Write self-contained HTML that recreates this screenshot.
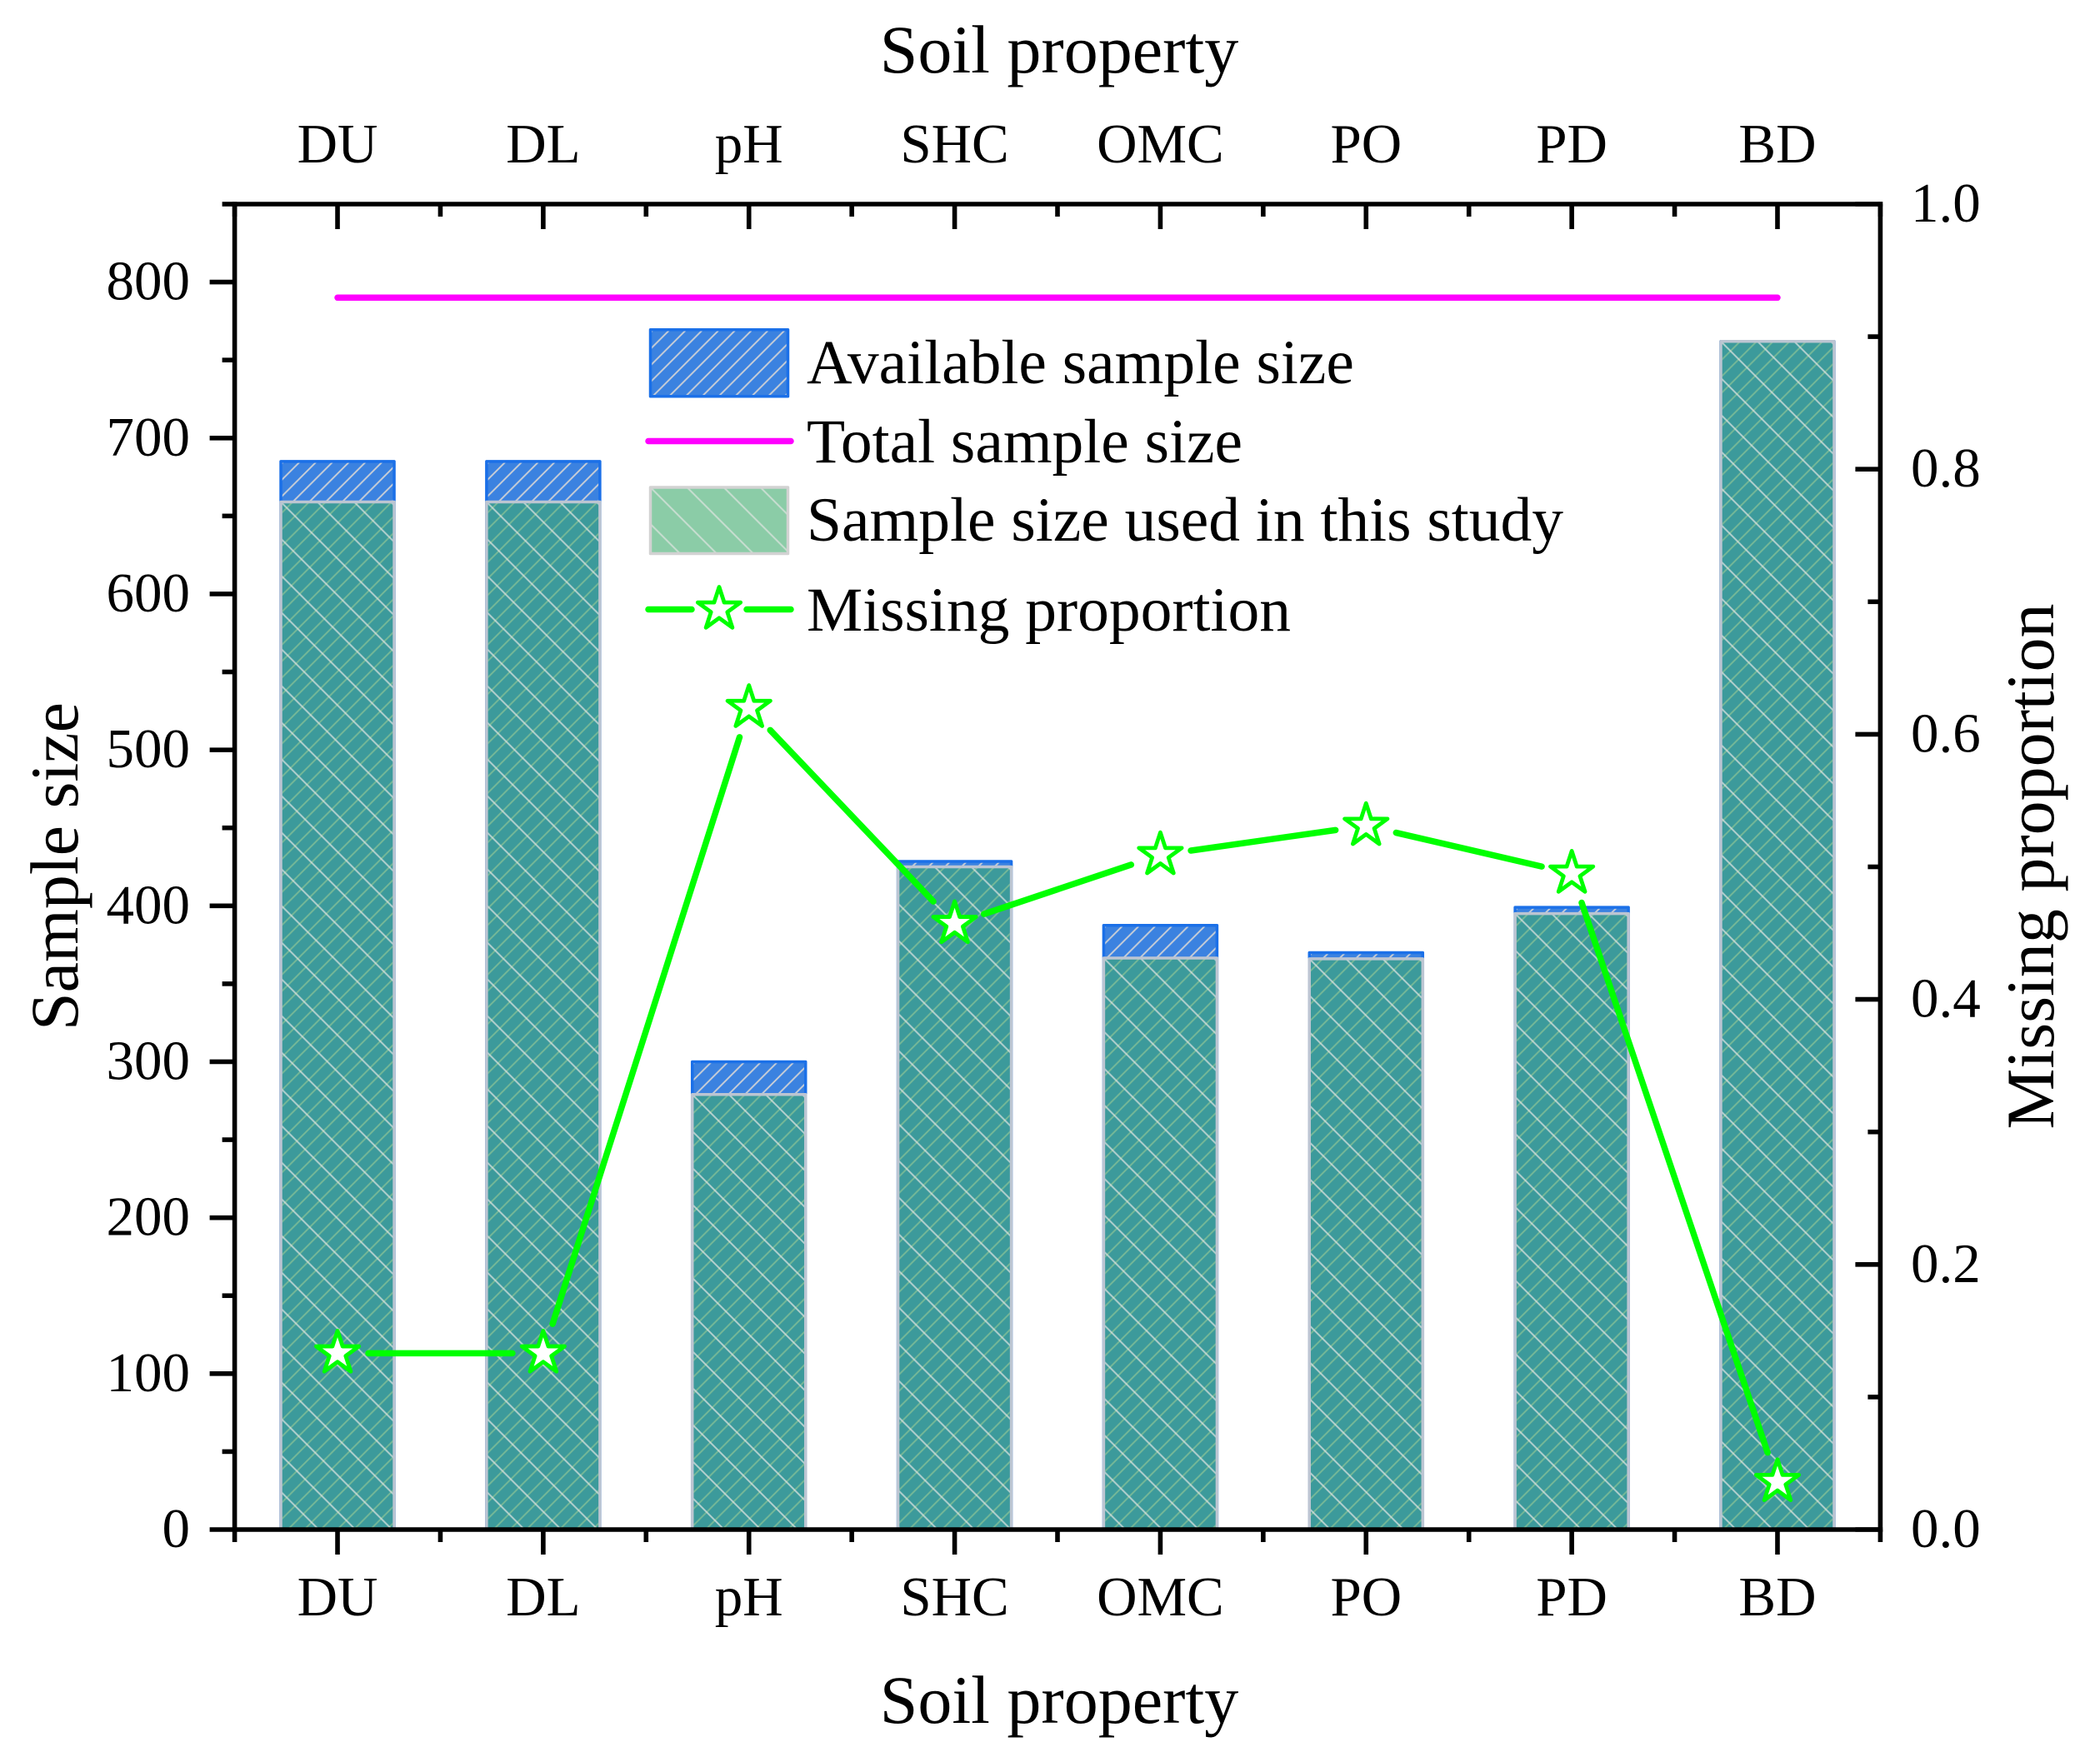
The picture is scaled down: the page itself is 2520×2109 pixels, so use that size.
<!DOCTYPE html>
<html lang="en">
<head>
<meta charset="utf-8">
<title>Sample size and missing proportion by soil property</title>
<style>
html,body{margin:0;padding:0;background:#fff}
svg{display:block}
text{font-family:"Liberation Serif",serif;fill:#000}
.tick{font-size:67px}
.title{font-size:82px}
.leg{font-size:75.5px}
</style>
</head>
<body>
<svg id="chart" xmlns="http://www.w3.org/2000/svg" width="2520" height="2109" viewBox="0 0 2520 2109">
  <rect x="0" y="0" width="2520" height="2109" fill="#fff"/>
  <defs id="defs"></defs>
  <g id="bars-available"></g>
  <g id="bars-used"></g>
  <g id="total-layer"></g>
  <g id="missing-layer"></g>
  <g id="axes"></g>
  <g id="labels"></g>

  <text class="title" x="1271" y="2068" text-anchor="middle">Soil property</text>
  <text class="title" x="1271" y="87" text-anchor="middle">Soil property</text>
  <text class="title" transform="translate(93 1040) rotate(-90)" text-anchor="middle">Sample size</text>
  <text class="title" transform="translate(2464 1040) rotate(-90)" text-anchor="middle">Missing proportion</text>

  <g id="legend">
    <g id="legend-swatches"></g>
    <text class="leg" x="968" y="460">Available sample size</text>
    <text class="leg" x="968" y="555">Total sample size</text>
    <text class="leg" x="968" y="649">Sample size used in this study</text>
    <text class="leg" x="968" y="757">Missing proportion</text>
  </g>
</svg>
<script>
const categories = ['DU', 'DL', 'pH', 'SHC', 'OMC', 'PO', 'PD', 'BD'];
const availableSizes = [685, 685, 300, 428.5, 387.5, 370, 399, 762];
const usedSizes = [659, 659, 279, 425, 366.5, 366, 395, 762];
const totalSizes = [790, 790, 790, 790, 790, 790, 790, 790];
const missingProportion = [0.133, 0.133, 0.62, 0.457, 0.509, 0.531, 0.495, 0.036];
const leftTicks = [0, 100, 200, 300, 400, 500, 600, 700, 800];
const leftMinorTicks = [50, 150, 250, 350, 450, 550, 650, 750, 850];
const rightTicks = [0, 0.2, 0.4, 0.6, 0.8, 1];
const rightMinorTicks = [0.1, 0.3, 0.5, 0.7, 0.9];

const NS = 'http://www.w3.org/2000/svg';
const plot = {left: 281.6, right: 2256.4, top: 245, bottom: 1836};
const leftMax = 850;
const barFrac = 0.551;
const barStroke = 3.5;

function xAxis(pos) { /* pos is 1-based category position */
  return plot.left + (pos - 0.5) * (plot.right - plot.left) / categories.length;
}
function yLeft(v) { return plot.bottom - v / leftMax * (plot.bottom - plot.top); }
function yRight(v) { return plot.bottom - v * (plot.bottom - plot.top); }

function mk(tag, attrs, parent) {
  const el = document.createElementNS(NS, tag);
  for (const k in attrs) el.setAttribute(k, attrs[k]);
  parent.appendChild(el);
  return el;
}

const defs = document.getElementById('defs');
let patternCount = 0;
function hatch(x, y, size, forward, color, width) {
  patternCount += 1;
  const id = 'hatch-' + patternCount;
  const p = mk('pattern', {id: id, patternUnits: 'userSpaceOnUse', x: x, y: y, width: size, height: size}, defs);
  const d = forward
    ? `M0 ${size}L${size} 0M-3 3L3 -3M${size - 3} ${size + 3}L${size + 3} ${size - 3}`
    : `M0 0L${size} ${size}M${size - 3} -3L${size + 3} 3M-3 ${size - 3}L3 ${size + 3}`;
  mk('path', {d: d, stroke: color, 'stroke-width': width, fill: 'none'}, p);
  return 'url(#' + id + ')';
}

function blueBox(parent, x, y, w, h) {
  const ix = x + barStroke / 2, iy = y + barStroke / 2;
  mk('rect', {x: x, y: y, width: w, height: h, fill: '#3b82e0', stroke: 'none'}, parent);
  mk('rect', {x: x, y: y, width: w, height: h, fill: hatch(ix, iy, 19.8, true, '#c9ced6', 1.9), stroke: '#1b70e8', 'stroke-width': barStroke, 'stroke-linejoin': 'round'}, parent);
}
function greenBox(parent, x, y, w, h, edge) {
  const ix = x + barStroke / 2, iy = y + barStroke / 2;
  mk('rect', {x: x, y: y, width: w, height: h, fill: 'rgb(62,170,108)', 'fill-opacity': 0.6, stroke: 'none'}, parent);
  mk('rect', {x: x, y: y, width: w, height: h, fill: hatch(ix, iy, 44, false, 'rgba(225,228,226,0.72)', 2), stroke: edge, 'stroke-width': barStroke, 'stroke-linejoin': 'round'}, parent);
}
function starPoints(cx, cy, R) {
  const r = R * 0.382;
  const pts = [];
  for (let i = 0; i < 10; i++) {
    const a = -Math.PI / 2 + i * Math.PI / 5;
    const rad = i % 2 === 0 ? R : r;
    pts.push((cx + rad * Math.cos(a)).toFixed(2) + ',' + (cy + rad * Math.sin(a)).toFixed(2));
  }
  return pts.join(' ');
}

/* bars */
const step = (plot.right - plot.left) / categories.length;
const barW = step * barFrac;
const availGroup = document.getElementById('bars-available');
const usedGroup = document.getElementById('bars-used');
categories.forEach((c, i) => {
  const cx = xAxis(i + 1);
  const a = document.createElementNS(NS, 'g');
  
  
  availGroup.appendChild(a);
  blueBox(a, cx - barW / 2, yLeft(availableSizes[i]), barW, yLeft(0) - yLeft(availableSizes[i]));
  const u = document.createElementNS(NS, 'g');
  
  
  usedGroup.appendChild(u);
  greenBox(u, cx - barW / 2, yLeft(usedSizes[i]), barW, yLeft(0) - yLeft(usedSizes[i]), '#bcc5d2');
});

/* total line */
const totalLine = document.createElementNS(NS, 'polyline');


totalLine.setAttribute('points', totalSizes.map((v, i) => xAxis(i + 1) + ',' + yLeft(v)).join(' '));
totalLine.setAttribute('fill', 'none');
totalLine.setAttribute('stroke', '#ff00ff');
totalLine.setAttribute('stroke-width', '7.5');
totalLine.setAttribute('stroke-linecap', 'round');
document.getElementById('total-layer').appendChild(totalLine);

/* missing proportion line with gaps around the markers */
const missLayer = document.getElementById('missing-layer');
const gap = 37;
for (let i = 0; i < missingProportion.length - 1; i++) {
  const x1 = xAxis(i + 1), y1 = yRight(missingProportion[i]);
  const x2 = xAxis(i + 2), y2 = yRight(missingProportion[i + 1]);
  const len = Math.hypot(x2 - x1, y2 - y1);
  const ux = (x2 - x1) / len, uy = (y2 - y1) / len;
  const seg = document.createElementNS(NS, 'line');
  
  
  seg.setAttribute('x1', x1 + ux * gap);
  seg.setAttribute('y1', y1 + uy * gap);
  seg.setAttribute('x2', x2 - ux * gap);
  seg.setAttribute('y2', y2 - uy * gap);
  seg.setAttribute('stroke', '#00ff00');
  seg.setAttribute('stroke-width', '7.5');
  seg.setAttribute('stroke-linecap', 'round');
  missLayer.appendChild(seg);
}
missingProportion.forEach((v, i) => {
  const star = document.createElementNS(NS, 'polygon');
  
  
  star.setAttribute('points', starPoints(xAxis(i + 1), yRight(v), 27));
  star.setAttribute('fill', '#fff');
  star.setAttribute('stroke', '#00ff00');
  star.setAttribute('stroke-width', '4.8');
  star.setAttribute('stroke-linejoin', 'round');
  missLayer.appendChild(star);
});

/* axes */
const axes = document.getElementById('axes');
function axisLine(x1, y1, x2, y2, name) {
  const l = document.createElementNS(NS, 'line');
  
  
  l.setAttribute('x1', x1);
  l.setAttribute('y1', y1);
  l.setAttribute('x2', x2);
  l.setAttribute('y2', y2);
  l.setAttribute('stroke', '#000');
  l.setAttribute('stroke-width', '5.6');
  axes.appendChild(l);
}
const majorLen = 30, minorLen = 15;
axisLine(plot.left, plot.top - 2.8, plot.left, plot.bottom + 2.8, 'left-y-axis-line');
axisLine(plot.right, plot.top - 2.8, plot.right, plot.bottom + 2.8, 'right-y-axis-line');
axisLine(plot.left, plot.top, plot.right + 2.8, plot.top, 'top-x-axis-line');
axisLine(plot.left, plot.bottom, plot.right + 2.8, plot.bottom, 'bottom-x-axis-line');
leftTicks.forEach(v => axisLine(plot.left - majorLen, yLeft(v), plot.left, yLeft(v), 'left-major-tick'));
leftMinorTicks.forEach(v => axisLine(plot.left - minorLen, yLeft(v), plot.left, yLeft(v), 'left-minor-tick'));
rightTicks.forEach(v => axisLine(plot.right - majorLen, yRight(v), plot.right, yRight(v), 'right-major-tick'));
rightMinorTicks.forEach(v => axisLine(plot.right - minorLen, yRight(v), plot.right, yRight(v), 'right-minor-tick'));
categories.forEach((c, i) => {
  const x = xAxis(i + 1);
  axisLine(x, plot.bottom, x, plot.bottom + majorLen, 'bottom-major-tick');
  axisLine(x, plot.top, x, plot.top + majorLen, 'top-major-tick');
});
for (let i = 0; i <= categories.length; i++) {
  const x = xAxis(i + 0.5);
  axisLine(x, plot.bottom, x, plot.bottom + minorLen, 'bottom-minor-tick');
  axisLine(x, plot.top, x, plot.top + minorLen, 'top-minor-tick');
}

/* tick labels */
const labels = document.getElementById('labels');
function tickLabel(text, x, y, anchor, name) {
  const t = document.createElementNS(NS, 'text');
  
  
  t.setAttribute('class', 'tick');
  t.setAttribute('x', x);
  t.setAttribute('y', y);
  t.setAttribute('text-anchor', anchor);
  t.textContent = text;
  labels.appendChild(t);
}
leftTicks.forEach(v => tickLabel(String(v), 228, yLeft(v) + 21, 'end', 'left-tick-label'));
rightTicks.forEach(v => tickLabel(v.toFixed(1), 2293, yRight(v) + 21, 'start', 'right-tick-label'));
categories.forEach((c, i) => {
  tickLabel(c, xAxis(i + 1), 1939, 'middle', 'bottom-tick-label');
  tickLabel(c, xAxis(i + 1), 195, 'middle', 'top-tick-label');
});

/* legend swatches */
const sw = document.getElementById('legend-swatches');
const swBlue = document.createElementNS(NS, 'g');


sw.appendChild(swBlue);
blueBox(swBlue, 780.5, 395.7, 165, 80);
const swMagenta = document.createElementNS(NS, 'line');


swMagenta.setAttribute('x1', '778');
swMagenta.setAttribute('y1', '529.5');
swMagenta.setAttribute('x2', '949');
swMagenta.setAttribute('y2', '529.5');
swMagenta.setAttribute('stroke', '#ff00ff');
swMagenta.setAttribute('stroke-width', '7.5');
swMagenta.setAttribute('stroke-linecap', 'round');
sw.appendChild(swMagenta);
const swGreen = document.createElementNS(NS, 'g');


sw.appendChild(swGreen);
greenBox(swGreen, 780.5, 585, 165, 79.5, '#d2d2d2');
const swMiss = document.createElementNS(NS, 'path');


swMiss.setAttribute('d', 'M778 731.5H830M896 731.5H949');
swMiss.setAttribute('stroke', '#00ff00');
swMiss.setAttribute('stroke-width', '7.5');
swMiss.setAttribute('stroke-linecap', 'round');
swMiss.setAttribute('fill', 'none');
sw.appendChild(swMiss);
const swStar = document.createElementNS(NS, 'polygon');


swStar.setAttribute('points', starPoints(863, 731.5, 27));
swStar.setAttribute('fill', '#fff');
swStar.setAttribute('stroke', '#00ff00');
swStar.setAttribute('stroke-width', '4.8');
swStar.setAttribute('stroke-linejoin', 'round');
sw.appendChild(swStar);
</script>
</body>
</html>
